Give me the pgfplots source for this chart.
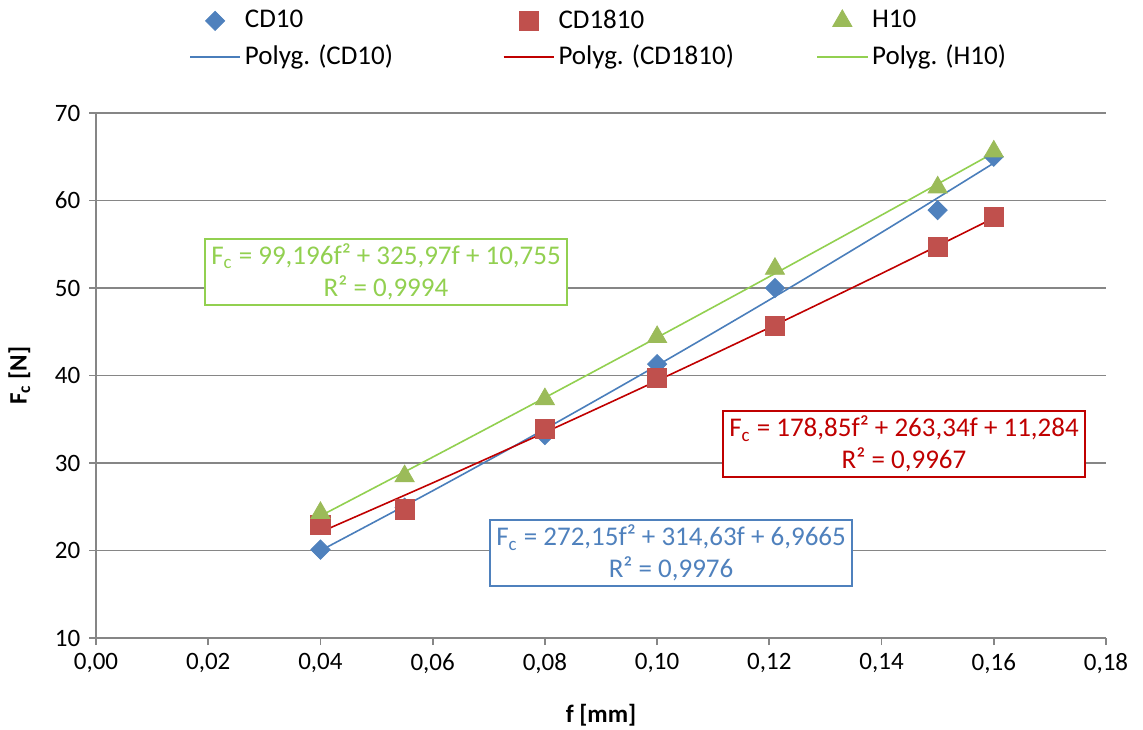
\documentclass[border=0pt]{standalone}
\usepackage{fontspec}
\setmainfont{Carlito}
\usepackage{pgfplots}
\pgfplotsset{compat=1.18}
\definecolor{mblue}{HTML}{4F81BD}
\definecolor{mred}{HTML}{C0504D}
\definecolor{mgreen}{HTML}{9BBB59}
\definecolor{tblue}{HTML}{4A7EBB}
\definecolor{tred}{HTML}{C00000}
\definecolor{tgreen}{HTML}{92D050}
\definecolor{gridc}{HTML}{868686}
\begin{document}
\fontsize{12.5}{15}\selectfont
\begin{tikzpicture}
\path[use as bounding box] (0,0) rectangle (571.5pt,364.5pt);
\begin{axis}[
  at={(48pt,45.5pt)}, anchor=south west,
  scale only axis, width=505pt, height=262.5pt,
  xmin=0, xmax=0.18, ymin=10, ymax=70,
  xtick={0,0.02,...,0.18}, ytick={10,20,...,70},
  axis lines=left, axis line style={-, draw=gridc, line width=0.9pt},
  ymajorgrids, grid style={gridc, line width=0.9pt},
  tick style={gridc, line width=0.9pt}, tick align=outside, major tick length=3.5pt,
  /pgf/number format/assume math mode=true,
  xticklabel style={/pgf/number format/.cd, use comma, fixed, fixed zerofill, precision=2},
  yticklabel style={/pgf/number format/.cd, fixed, precision=0},
  ticklabel style={font=\fontsize{12.5}{15}\selectfont},
  xlabel={\textbf{f [mm]}}, ylabel={\textbf{F\textsubscript{c} [N]}},
  xlabel style={font=\fontsize{12.5}{15}\selectfont, at={(axis description cs:0.5,0)}, anchor=north, yshift=-29pt},
  ylabel style={font=\fontsize{12.5}{15}\selectfont, at={(axis description cs:0,0.5)}, anchor=south, xshift=0pt, yshift=28.5pt},
  legend columns=3,
  legend image code/.code={\draw[mark repeat=2,mark phase=2,#1] plot coordinates {(0pt,0pt) (12.5pt,0pt) (25pt,0pt)};},
  legend style={draw=none, fill=none, at={(axis description cs:0.092,1.205)}, anchor=north west,
    inner sep=0pt, font=\fontsize{13.5}{16}\selectfont,
    row sep=2.5pt},
  legend cell align=left,
  clip=false,
]
\addplot[only marks, mark=square*, mark size=3.4pt, mark options={rotate=45, fill=mblue, draw=mblue}]
coordinates {(0.04,20.1) (0.055,24.9) (0.08,33.2) (0.10,41.3) (0.121,50.0) (0.15,58.9) (0.16,65.0)};
\addlegendentry{\makebox[127pt][l]{CD10}}
\addplot[only marks, mark=square*, mark size=4.8pt, mark options={fill=mred, draw=mred}]
coordinates {(0.04,22.9) (0.055,24.7) (0.08,33.9) (0.10,39.7) (0.121,45.7) (0.15,54.7) (0.16,58.1)};
\addlegendentry{\makebox[127pt][l]{CD1810}}
\addplot[only marks, mark=triangle*, mark size=5.5pt, mark options={fill=mgreen, draw=mgreen}]
coordinates {(0.04,24.3) (0.055,28.5) (0.08,37.3) (0.10,44.4) (0.121,52.2) (0.15,61.5) (0.16,65.6)};
\addlegendentry{\makebox[127pt][l]{H10}}
\addplot[tblue, line width=0.8pt, smooth, no marks]
coordinates {(0.04,19.987) (0.06,26.824) (0.08,33.879) (0.10,41.151) (0.12,48.641) (0.14,56.349) (0.16,64.274)};
\addlegendentry{Polyg. (CD10)}
\addplot[tred, line width=0.8pt, smooth, no marks]
coordinates {(0.04,22.104) (0.06,27.728) (0.08,33.496) (0.10,39.407) (0.12,45.460) (0.14,51.657) (0.16,57.997)};
\addlegendentry{Polyg. (CD1810)}
\addplot[tgreen, line width=0.8pt, smooth, no marks]
coordinates {(0.04,23.953) (0.06,30.670) (0.08,37.467) (0.10,44.344) (0.12,51.300) (0.14,58.335) (0.16,65.450)};
\addlegendentry{Polyg. (H10)}

\node[draw=tgreen, line width=0.9pt, fill=white, text=tgreen, align=center, inner xsep=3pt, inner ysep=2.5pt, minimum width=180pt, font=\fontsize{13.5}{16}\selectfont]
  at (axis cs:0.05168,51.83) {F\textsubscript{c} = 99,196f² + 325,97f + 10,755\\R² = 0,9994};
\node[draw=tred, line width=0.9pt, fill=white, text=tred, align=center, inner xsep=3pt, inner ysep=2.5pt, minimum width=180pt, font=\fontsize{13.5}{16}\selectfont]
  at (axis cs:0.144,32.17) {F\textsubscript{c} = 178,85f² + 263,34f + 11,284\\R² = 0,9967};
\node[draw=mblue, line width=0.9pt, fill=white, text=mblue, align=center, inner xsep=3pt, inner ysep=2.5pt, minimum width=180pt, font=\fontsize{13.5}{16}\selectfont]
  at (axis cs:0.10248,19.71) {F\textsubscript{c} = 272,15f² + 314,63f + 6,9665\\R² = 0,9976};
\end{axis}
\end{tikzpicture}
\end{document}
